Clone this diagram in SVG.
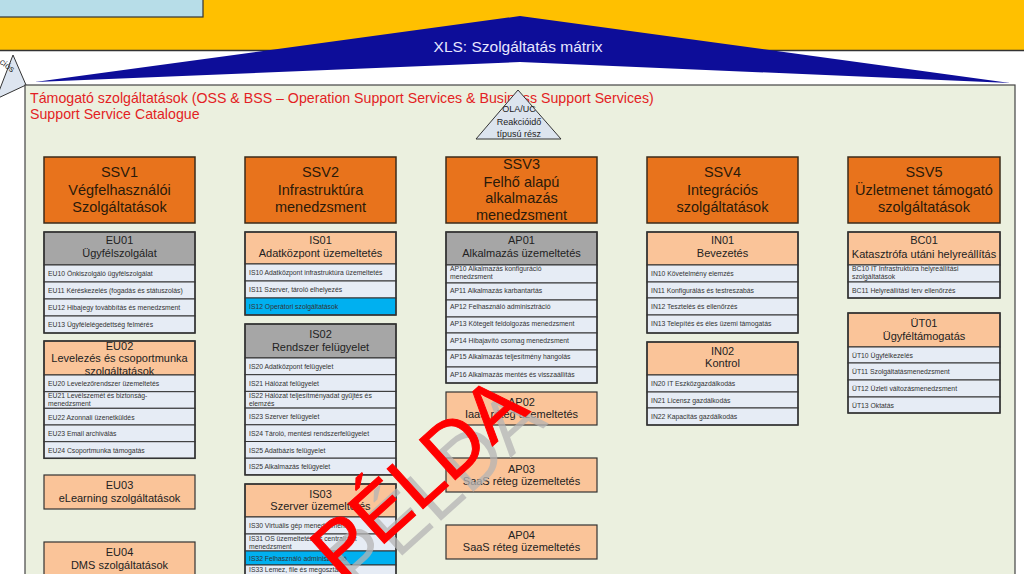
<svg xmlns="http://www.w3.org/2000/svg" width="1024" height="574" viewBox="0 0 1024 574">
<style>
text{font-family:"Liberation Sans",Arial,sans-serif}
.ssv{fill:#E8731C;stroke:#3b2b1b;stroke-width:1.5}
.hp{fill:#FAC499;stroke:#333;stroke-width:1.2}
.hg{fill:#A6A6A6;stroke:#333;stroke-width:1.2}
.row{fill:#E6ECF5;stroke:#333;stroke-width:1}
.rowb{fill:#00B0F0;stroke:#333;stroke-width:1}
.box{fill:none;stroke:#333;stroke-width:1.5}
.t14{font-size:14.5px;fill:#2a1a0a;text-anchor:middle}
.t11{font-size:11px;fill:#222;text-anchor:middle}
.t7{font-size:6.8px;fill:#333}
.tw{font-size:78px;text-anchor:middle}
</style>
<g id="background">
<rect x="0" y="0" width="1024" height="50" fill="#FFC000"/>
<line x1="0" y1="50.5" x2="1024" y2="50.5" stroke="#333" stroke-width="1.5"/>
<rect x="-2" y="-2" width="205" height="19" fill="#B7DDE8" stroke="#333" stroke-width="1.2"/>
<polygon points="35,82 520,16 1010,83 520,62" fill="#0D0D99"/>
<text x="518" y="52" font-size="15.5" fill="#E6E6FF" text-anchor="middle">XLS: Szolgáltatás mátrix</text>
<polygon points="13,55 26,85 -4,99" fill="#DDE5F0" stroke="#333" stroke-width="1"/>
<text x="-1" y="63" font-size="9" fill="#333" transform="rotate(37 -1 63)">ciós</text>
<rect x="25" y="85" width="990" height="500" fill="#EBF0DF" stroke="#444" stroke-width="1.2"/>
<text x="30" y="103" font-size="14.2" fill="#E31E24">Támogató szolgáltatások (OSS &amp; BSS – Operation Support Services &amp; Business Support Services)</text>
<text x="30" y="119" font-size="14.2" fill="#E31E24">Support Service Catalogue</text>
</g>
<g id="ola-uc">
<polygon points="518,90 476,139 561,139" fill="#DCE4EE" stroke="#333" stroke-width="1"/>
<text x="519" y="112" font-size="9" fill="#222" text-anchor="middle">OLA/UC</text>
<text x="519" y="125" font-size="9" fill="#222" text-anchor="middle">Reakcióidő</text>
<text x="519" y="137" font-size="9" fill="#222" text-anchor="middle">típusú rész</text>
</g>

<!-- Column 1 -->
<g id="SSV1">
<rect class="ssv" x="44" y="157" width="151" height="66"/>
<text class="t14" x="119.5" y="177">SSV1</text>
<text class="t14" x="119.5" y="194.5">Végfelhasználói</text>
<text class="t14" x="119.5" y="212">Szolgáltatások</text>
</g>
<g id="EU01">
<rect class="hg" x="44" y="232" width="151" height="33"/>
<text class="t11" x="119.5" y="244">EU01</text>
<text class="t11" x="119.5" y="257">Ügyfélszolgálat</text>
<rect class="row" x="44" y="265" width="151" height="17"/>
<text class="t7" x="48" y="276">EU10 Önkiszolgáló ügyfélszolgálat</text>
<rect class="row" x="44" y="282" width="151" height="17"/>
<text class="t7" x="48" y="293">EU11 Kéréskezelés (fogadás és státuszolás)</text>
<rect class="row" x="44" y="299" width="151" height="17"/>
<text class="t7" x="48" y="310">EU12 Hibajegy továbbítás és menedzsment</text>
<rect class="row" x="44" y="316" width="151" height="17"/>
<text class="t7" x="48" y="327">EU13 Ügyfélelégedettség felmérés</text>
<rect class="box" x="44" y="232" width="151" height="101"/>
</g>
<g id="EU02">
<rect class="hp" x="44" y="341" width="151" height="34"/>
<text class="t11" x="119.5" y="349.5">EU02</text>
<text class="t11" x="119.5" y="362">Levelezés és csoportmunka</text>
<text class="t11" x="119.5" y="374.5">szolgáltatások</text>
<rect class="row" x="44" y="375" width="151" height="16.7"/>
<text class="t7" x="48" y="386">EU20 Levelezőrendszer üzemeltetés</text>
<rect class="row" x="44" y="391.7" width="151" height="16.6"/>
<text class="t7" x="48" y="398">EU21 Levélszemét és biztonság-</text>
<text class="t7" x="48" y="405.5">menedzsment</text>
<rect class="row" x="44" y="408.3" width="151" height="16.7"/>
<text class="t7" x="48" y="419.5">EU22 Azonnali üzenetküldés</text>
<rect class="row" x="44" y="425" width="151" height="16.7"/>
<text class="t7" x="48" y="436">EU23 Email archiválás</text>
<rect class="row" x="44" y="441.7" width="151" height="16.6"/>
<text class="t7" x="48" y="453">EU24 Csoportmunka támogatás</text>
<rect class="box" x="44" y="341" width="151" height="117.3"/>
</g>
<g id="EU03">
<rect class="hp" x="44" y="475" width="151" height="34" stroke-width="1.5"/>
<text class="t11" x="119.5" y="489">EU03</text>
<text class="t11" x="119.5" y="502">eLearning szolgáltatások</text>
</g>
<g id="EU04">
<rect class="hp" x="44" y="542" width="151" height="45" stroke-width="1.5"/>
<text class="t11" x="119.5" y="556">EU04</text>
<text class="t11" x="119.5" y="568.5">DMS szolgáltatások</text>
</g>

<!-- Column 2 -->
<g id="SSV2">
<rect class="ssv" x="245" y="157" width="151" height="66"/>
<text class="t14" x="320.5" y="177">SSV2</text>
<text class="t14" x="320.5" y="194.5">Infrastruktúra</text>
<text class="t14" x="320.5" y="212">menedzsment</text>
</g>
<g id="IS01">
<rect class="hp" x="245" y="232" width="151" height="32"/>
<text class="t11" x="320.5" y="244">IS01</text>
<text class="t11" x="320.5" y="257">Adatközpont üzemeltetés</text>
<rect class="row" x="245" y="264" width="151" height="17"/>
<text class="t7" x="249" y="275">IS10 Adatközpont infrastruktúra üzemeltetés</text>
<rect class="row" x="245" y="281" width="151" height="17"/>
<text class="t7" x="249" y="292">IS11 Szerver, tároló elhelyezés</text>
<rect class="rowb" x="245" y="298" width="151" height="17"/>
<text class="t7" x="249" y="309">IS12 Operátori szolgáltatások</text>
<rect class="box" x="245" y="232" width="151" height="83"/>
</g>
<g id="IS02">
<rect class="hg" x="245" y="324" width="151" height="34"/>
<text class="t11" x="320.5" y="337.5">IS02</text>
<text class="t11" x="320.5" y="350.5">Rendszer felügyelet</text>
<rect class="row" x="245" y="358" width="151" height="16.7"/>
<text class="t7" x="249" y="369">IS20 Adatközpont felügyelet</text>
<rect class="row" x="245" y="374.7" width="151" height="16.7"/>
<text class="t7" x="249" y="385.5">IS21 Hálózat felügyelet</text>
<rect class="row" x="245" y="391.4" width="151" height="16.7"/>
<text class="t7" x="249" y="397.5">IS22 Hálózat teljesítményadat gyűjtés és</text>
<text class="t7" x="249" y="405.5">elemzés</text>
<rect class="row" x="245" y="408.1" width="151" height="16.7"/>
<text class="t7" x="249" y="419">IS23 Szerver felügyelet</text>
<rect class="row" x="245" y="424.8" width="151" height="16.7"/>
<text class="t7" x="249" y="436">IS24 Tároló, mentési rendszerfelügyelet</text>
<rect class="row" x="245" y="441.5" width="151" height="16.7"/>
<text class="t7" x="249" y="452.5">IS25 Adatbázis felügyelet</text>
<rect class="row" x="245" y="458.2" width="151" height="16.7"/>
<text class="t7" x="249" y="469">IS25 Alkalmazás felügyelet</text>
<rect class="box" x="245" y="324" width="151" height="150.9"/>
</g>
<g id="IS03">
<rect class="hp" x="245" y="484" width="151" height="33"/>
<text class="t11" x="320.5" y="497.5">IS03</text>
<text class="t11" x="320.5" y="510">Szerver üzemeltetés</text>
<rect class="row" x="245" y="517" width="151" height="17"/>
<text class="t7" x="249" y="527.5">IS30 Virtuális gép menedzsment</text>
<rect class="row" x="245" y="534" width="151" height="17"/>
<text class="t7" x="249" y="540.5">IS31 OS üzemeltetés és centralizált</text>
<text class="t7" x="249" y="548.5">menedzsment</text>
<rect class="rowb" x="245" y="551" width="151" height="14"/>
<text class="t7" x="249" y="560.5">IS32 Felhasználó adminisztráció</text>
<rect class="row" x="245" y="565" width="151" height="20"/>
<text class="t7" x="249" y="571.5">IS33 Lemez, file és megosztás</text>
<rect class="box" x="245" y="484" width="151" height="101"/>
</g>

<!-- Column 3 -->
<g id="SSV3">
<rect class="ssv" x="446" y="157" width="151" height="66"/>
<text class="t14" x="521.5" y="168.5">SSV3</text>
<text class="t14" x="521.5" y="186.5">Felhő alapú</text>
<text class="t14" x="521.5" y="203">alkalmazás</text>
<text class="t14" x="521.5" y="220">menedzsment</text>
</g>
<g id="AP01">
<rect class="hg" x="446" y="232" width="151" height="33"/>
<text class="t11" x="521.5" y="244">AP01</text>
<text class="t11" x="521.5" y="257">Alkalmazás üzemeltetés</text>
<rect class="row" x="446" y="265" width="151" height="18"/>
<text class="t7" x="450" y="270.5">AP10 Alkalmazás konfiguráció</text>
<text class="t7" x="450" y="279">menedzsment</text>
<rect class="row" x="446" y="283" width="151" height="17"/>
<text class="t7" x="450" y="292.5">AP11 Alkalmazás karbantartás</text>
<rect class="row" x="446" y="300" width="151" height="17"/>
<text class="t7" x="450" y="309">AP12 Felhasználó adminisztráció</text>
<rect class="row" x="446" y="317" width="151" height="16"/>
<text class="t7" x="450" y="325.5">AP13 Kötegelt feldolgozás menedzsment</text>
<rect class="row" x="446" y="333" width="151" height="17"/>
<text class="t7" x="450" y="343">AP14 Hibajavító csomag menedzsment</text>
<rect class="row" x="446" y="350" width="151" height="17"/>
<text class="t7" x="450" y="359">AP15 Alkalmazás teljesítmény hangolás</text>
<rect class="row" x="446" y="367" width="151" height="16"/>
<text class="t7" x="450" y="376.5">AP16 Alkalmazás mentés és visszaállítás</text>
<rect class="box" x="446" y="232" width="151" height="151"/>
</g>
<g id="AP02">
<rect class="hp" x="446" y="392" width="151" height="33" stroke-width="1.5"/>
<text class="t11" x="521.5" y="406">AP02</text>
<text class="t11" x="521.5" y="418">IaaS réteg üzemeltetés</text>
</g>
<g id="AP03">
<rect class="hp" x="446" y="458" width="151" height="34" stroke-width="1.5"/>
<text class="t11" x="521.5" y="472.5">AP03</text>
<text class="t11" x="521.5" y="484.5">SaaS réteg üzemeltetés</text>
</g>
<g id="AP04">
<rect class="hp" x="446" y="525" width="151" height="34" stroke-width="1.5"/>
<text class="t11" x="521.5" y="539">AP04</text>
<text class="t11" x="521.5" y="551">SaaS réteg üzemeltetés</text>
</g>

<!-- Column 4 -->
<g id="SSV4">
<rect class="ssv" x="647" y="157" width="151" height="66"/>
<text class="t14" x="722.5" y="177">SSV4</text>
<text class="t14" x="722.5" y="194.5">Integrációs</text>
<text class="t14" x="722.5" y="212">szolgáltatások</text>
</g>
<g id="IN01">
<rect class="hp" x="647" y="232" width="151" height="33"/>
<text class="t11" x="722.5" y="244">IN01</text>
<text class="t11" x="722.5" y="257">Bevezetés</text>
<rect class="row" x="647" y="265" width="151" height="17"/>
<text class="t7" x="651" y="275.5">IN10 Követelmény elemzés</text>
<rect class="row" x="647" y="282" width="151" height="16"/>
<text class="t7" x="651" y="292.5">IN11 Konfigurálás és testreszabás</text>
<rect class="row" x="647" y="298" width="151" height="17"/>
<text class="t7" x="651" y="309">IN12 Tesztelés és ellenőrzés</text>
<rect class="row" x="647" y="315" width="151" height="18"/>
<text class="t7" x="651" y="325.5">IN13 Telepítés és éles üzemi támogatás</text>
<rect class="box" x="647" y="232" width="151" height="101"/>
</g>
<g id="IN02">
<rect class="hp" x="647" y="342" width="151" height="33"/>
<text class="t11" x="722.5" y="354.5">IN02</text>
<text class="t11" x="722.5" y="367">Kontrol</text>
<rect class="row" x="647" y="375" width="151" height="17"/>
<text class="t7" x="651" y="385.5">IN20 IT Eszközgazdálkodás</text>
<rect class="row" x="647" y="392" width="151" height="16"/>
<text class="t7" x="651" y="402.5">IN21 Licensz gazdálkodás</text>
<rect class="row" x="647" y="408" width="151" height="17"/>
<text class="t7" x="651" y="419">IN22 Kapacitás gazdálkodás</text>
<rect class="box" x="647" y="342" width="151" height="83"/>
</g>

<!-- Column 5 -->
<g id="SSV5">
<rect class="ssv" x="848" y="157" width="152" height="66"/>
<text class="t14" x="924" y="177">SSV5</text>
<text class="t14" x="924" y="194.5">Üzletmenet támogató</text>
<text class="t14" x="924" y="212">szolgáltatások</text>
</g>
<g id="BC01">
<rect class="hp" x="848" y="232" width="152" height="33"/>
<text class="t11" x="924" y="244">BC01</text>
<text class="t11" x="924" y="257.5">Katasztrófa utáni helyreállítás</text>
<rect class="row" x="848" y="265" width="152" height="17"/>
<text class="t7" x="852" y="270.5">BC10 IT Infrastruktúra helyreállítási</text>
<text class="t7" x="852" y="279">szolgáltatások</text>
<rect class="row" x="848" y="282" width="152" height="16"/>
<text class="t7" x="852" y="292.5">BC11 Helyreállítási terv ellenőrzés</text>
<rect class="box" x="848" y="232" width="152" height="66"/>
</g>
<g id="UT01">
<rect class="hp" x="848" y="313" width="152" height="34"/>
<text class="t11" x="924" y="327">ÜT01</text>
<text class="t11" x="924" y="340">Ügyféltámogatás</text>
<rect class="row" x="848" y="347" width="152" height="16"/>
<text class="t7" x="852" y="357.5">ÜT10 Ügyfélkezelés</text>
<rect class="row" x="848" y="363" width="152" height="17"/>
<text class="t7" x="852" y="374">ÜT11 Szolgáltatásmenedzsment</text>
<rect class="row" x="848" y="380" width="152" height="17"/>
<text class="t7" x="852" y="391">ÜT12 Üzleti változásmenedzsment</text>
<rect class="row" x="848" y="397" width="152" height="16"/>
<text class="t7" x="852" y="408">ÜT13 Oktatás</text>
<rect class="box" x="848" y="313" width="152" height="100"/>
</g>

<g id="connectors"/>

<g id="watermark">
<text class="tw" x="454" y="509" fill="#B4B4B4" fill-opacity="0.75" transform="rotate(-42 454 509)">PÉLDA</text>
<text class="tw" x="436" y="497" fill="#FF0000" stroke="#FF0000" stroke-width="1" transform="rotate(-42 436 497)">PÉLDA</text>
</g>
</svg>
